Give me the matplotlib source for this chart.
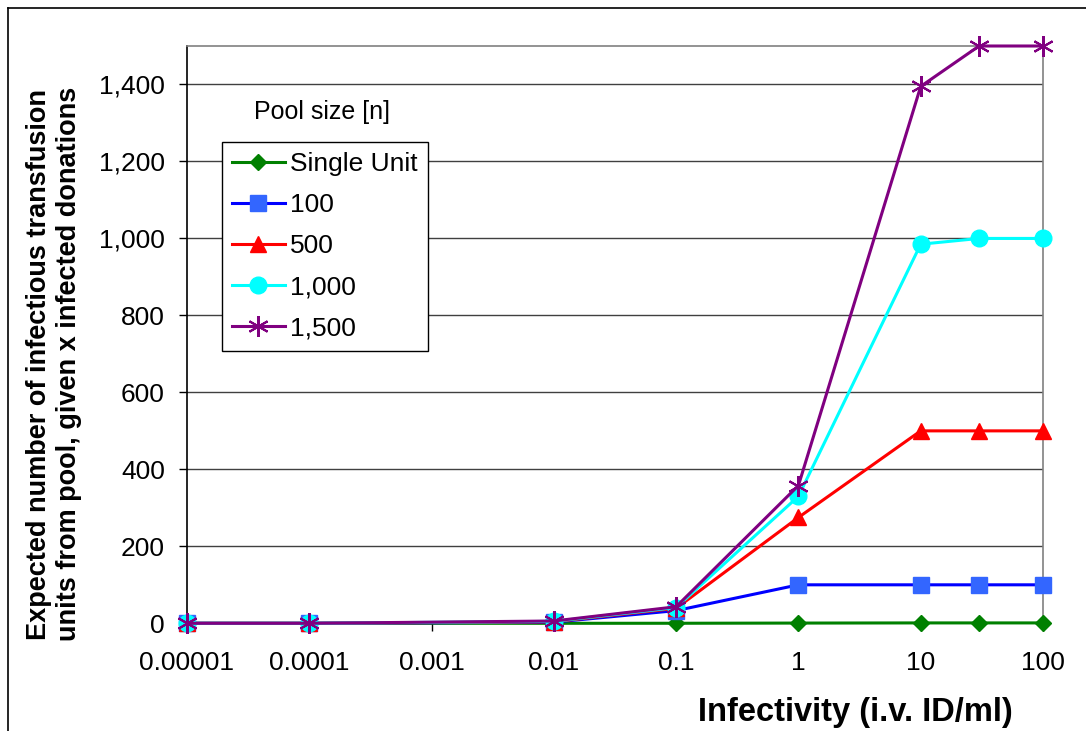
import matplotlib
matplotlib.use("Agg")
import matplotlib.pyplot as plt
from matplotlib.lines import Line2D
from matplotlib.ticker import FixedLocator, FixedFormatter

plt.rcParams['font.family'] = ['Liberation Sans', 'DejaVu Sans']

# ---- data ----
infectivity = [1e-5, 1e-4, 1e-2, 1e-1, 1, 10, 30, 100]
single_unit = [0, 0, 0, 0.1, 0.6, 1, 1, 1]
pool_100 = [0, 0, 3, 33, 100, 100, 100, 100]
pool_500 = [0, 0, 4, 39, 275, 500, 500, 500]
pool_1000 = [0, 0, 5, 41, 330, 985, 1000, 1000]
pool_1500 = [0, 0, 6, 43, 358, 1395, 1500, 1500]

x_ticks = [1e-5, 1e-4, 1e-3, 1e-2, 1e-1, 1, 10, 100]
x_tick_labels = ["0.00001", "0.0001", "0.001", "0.01", "0.1", "1", "10", "100"]
y_ticks = [0, 200, 400, 600, 800, 1000, 1200, 1400]
y_tick_labels = ["0", "200", "400", "600", "800", "1,000", "1,200", "1,400"]
series_labels = ["Single Unit", "100", "500", "1,000", "1,500"]

fig = plt.figure(figsize=(10.86, 7.31), dpi=100)
W, H = 1086, 731
ax = fig.add_axes([187 / W, 1 - 623.3 / H, (1043 - 187) / W, (623.3 - 46) / H])

ax.set_xscale('log')
ax.set_xlim(1e-5, 100)
ax.set_ylim(0, 1500)

lw = 2.2
ax.plot(infectivity, single_unit, color='#008000', lw=lw, marker='D', ms=8,
        mfc='#008000', mec='#008000', clip_on=False, zorder=3, label=series_labels[0])
ax.plot(infectivity, pool_100, color='#0000FF', lw=lw, marker='s', ms=12,
        mfc='#3366FF', mec='#3366FF', clip_on=False, zorder=4, label=series_labels[1])
ax.plot(infectivity, pool_500, color='#FF0000', lw=lw, marker='^', ms=12,
        mfc='#FF0000', mec='#FF0000', clip_on=False, zorder=5, label=series_labels[2])
ax.plot(infectivity, pool_1000, color='#00FFFF', lw=lw, marker='o', ms=12,
        mfc='#00FFFF', mec='#00FFFF', clip_on=False, zorder=6, label=series_labels[3])
ax.plot(infectivity, pool_1500, color='#800080', lw=lw, marker=(6, 2, 0), ms=15,
        mfc='#800080', mec='#800080', mew=1.5, clip_on=False, zorder=7, label=series_labels[4])

ax.xaxis.set_major_locator(FixedLocator(x_ticks))
ax.xaxis.set_major_formatter(FixedFormatter(x_tick_labels))
ax.xaxis.set_minor_locator(FixedLocator([]))
ax.yaxis.set_major_locator(FixedLocator(y_ticks))
ax.yaxis.set_major_formatter(FixedFormatter(y_tick_labels))

ax.tick_params(axis='both', direction='out', length=6, width=1, color='black',
               labelsize=19, pad=10)
ax.tick_params(axis='x', pad=14)

for yv in y_ticks[1:]:
    ax.axhline(yv, color='#404040', lw=1, zorder=1)

ax.spines['left'].set_color('black')
ax.spines['bottom'].set_color('black')
ax.spines['top'].set_color('#808080')
ax.spines['right'].set_color('#808080')
for s in ax.spines.values():
    s.set_linewidth(1.2)

ax.set_xlabel("Infectivity (i.v. ID/ml)", fontsize=23.5, fontweight='bold')
ax.xaxis.set_label_coords((855 - 187) / (1043 - 187), -(712 - 623.3) / (623.3 - 46))
ax.xaxis.label.set_va('center')
ax.set_ylabel("Expected number of infectious transfusion\nunits from pool, given x infected donations",
              fontsize=19.5, fontweight='bold', linespacing=1.2)
ax.yaxis.set_label_coords(-(187 - 54) / (1043 - 187), (623.3 - 364) / (623.3 - 46))
ax.yaxis.label.set_va('center')

leg = ax.legend(loc='upper left', bbox_to_anchor=(222 / W, 1 - 142 / H),
                bbox_transform=fig.transFigure, fontsize=19, frameon=True,
                fancybox=False, shadow=False, edgecolor='black', framealpha=1,
                handlelength=2.0, labelspacing=0.65, borderpad=0.38,
                handletextpad=0.2, borderaxespad=0)
leg.get_frame().set_linewidth(1)
leg.set_zorder(10)

fig.text(322 / W, 1 - 112 / H, "Pool size [n]", fontsize=18, ha='center', va='center')

# outer chart frame
fig.add_artist(Line2D([8 / W, 1], [1 - 8 / H, 1 - 8 / H], color='black', lw=1.2))
fig.add_artist(Line2D([8 / W, 8 / W], [1 - 8 / H, 0], color='black', lw=1.2))

fig.savefig("out.png", dpi=100)
